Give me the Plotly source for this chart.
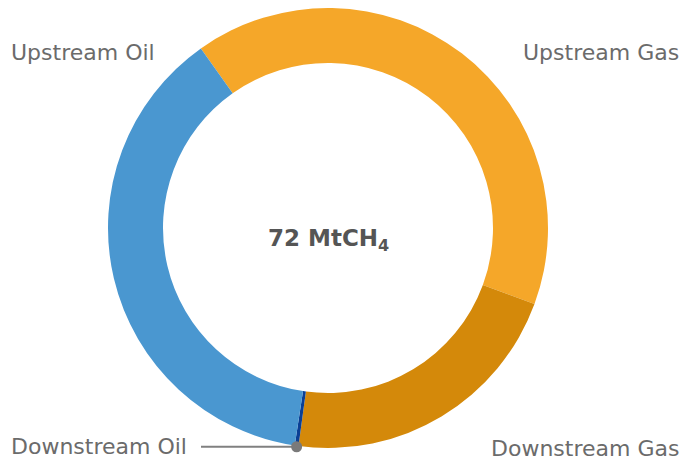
import math
import plotly.graph_objects as go

# Methane emissions by segment (MtCH4)
segments = ["Upstream Gas", "Downstream Gas", "Downstream Oil", "Upstream Oil"]
emissions = [29.1, 15.5, 0.2, 27.2]
colors = ["#F5A729", "#D4890A", "#0B3F94", "#4A97D0"]
total_label = "72 MtCH<sub>4</sub>"

W, H = 685, 463
START_ANGLE = -35.3  # degrees clockwise from 12 o'clock
DOM_X = [108 / W, 548 / W]
DOM_Y = [1 - 448 / H, 1 - 8 / H]

fig = go.Figure(
    go.Pie(
        labels=segments,
        values=emissions,
        hole=0.75,
        sort=False,
        direction="clockwise",
        rotation=START_ANGLE,
        marker=dict(colors=colors, line=dict(width=0)),
        textinfo="none",
        hoverinfo="label+value",
        showlegend=False,
        domain=dict(x=DOM_X, y=DOM_Y),
    )
)

# pie geometry in paper coordinates
cx_px = (DOM_X[0] + DOM_X[1]) / 2 * W
cy_px = (1 - (DOM_Y[0] + DOM_Y[1]) / 2) * H
radius_px = min((DOM_X[1] - DOM_X[0]) * W, (DOM_Y[1] - DOM_Y[0]) * H) / 2

# outer edge point at the middle of the Downstream Oil slice
total = sum(emissions)
idx = segments.index("Downstream Oil")
before = sum(emissions[:idx])
mid_deg = START_ANGLE + (before + emissions[idx] / 2) / total * 360
dot_x_px = cx_px + radius_px * math.sin(math.radians(mid_deg))
dot_y_px = cy_px - radius_px * math.cos(math.radians(mid_deg)) + 1
dot_x = dot_x_px / W
dot_y = 1 - dot_y_px / H

label_font = dict(family="DejaVu Sans", size=22, color="#6B6B6B")

annotations = [
    dict(text="Upstream Oil", x=9 / W, y=1 - 52 / H, xanchor="left", yanchor="middle"),
    dict(text="Upstream Gas", x=681 / W, y=1 - 52 / H, xanchor="right", yanchor="middle"),
    dict(text="Downstream Gas", x=681 / W, y=1 - 448 / H, xanchor="right", yanchor="middle"),
    dict(text="Downstream Oil", x=9 / W, y=dot_y, xanchor="left", yanchor="middle"),
]
for a in annotations:
    a.update(xref="paper", yref="paper", showarrow=False, font=label_font)

annotations.append(
    dict(
        text="<b>" + total_label + "</b>",
        x=cx_px / W, y=1 - 240 / H,
        xref="paper", yref="paper", showarrow=False,
        xanchor="center", yanchor="middle",
        font=dict(family="DejaVu Sans", size=23, color="#555555"),
    )
)

r_dot = 5.5
shapes = [
    dict(type="line", xref="paper", yref="paper",
         x0=201 / W, x1=dot_x, y0=dot_y, y1=dot_y,
         line=dict(color="#808080", width=2)),
    dict(type="circle", xref="paper", yref="paper",
         x0=(dot_x_px - r_dot) / W, x1=(dot_x_px + r_dot) / W,
         y0=1 - (dot_y_px + r_dot) / H, y1=1 - (dot_y_px - r_dot) / H,
         fillcolor="#7A7A7A", line=dict(width=0)),
]

fig.update_layout(
    width=W, height=H,
    margin=dict(l=0, r=0, t=0, b=0),
    paper_bgcolor="white",
    plot_bgcolor="white",
    annotations=annotations,
    shapes=shapes,
)

fig.write_html("out.html")
